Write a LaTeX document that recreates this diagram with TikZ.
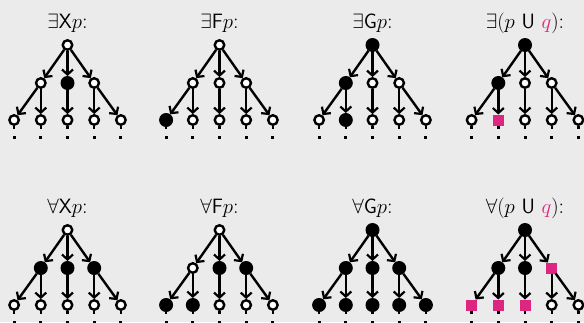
\documentclass[tikz,border=0pt]{standalone}
\usetikzlibrary{arrows.meta}
\definecolor{bg}{RGB}{235,235,235}
\definecolor{mag}{RGB}{221,38,127}
\tikzset{
 op/.style={circle,draw=black,fill=white,line width=2.4pt,minimum size=9.5pt,inner sep=0pt},
 fl/.style={circle,fill=black,minimum size=14pt,inner sep=0pt,outer sep=0pt},
 sq/.style={rectangle,fill=mag,minimum size=11pt,inner sep=0pt,outer sep=0pt},
 edge/.style={line width=2.4pt,-{Straight Barb[length=5pt,width=11pt,line width=2.2pt]}},
 stubline/.style={line width=2.4pt},
 dotmark/.style={rectangle,fill=black,minimum size=3pt,inner sep=0pt},
 lbl/.style={font=\fontsize{22}{26}\selectfont, anchor=base, inner sep=0pt}
}
\newcommand\ctltree[9]{%
 \node[#1] (\tp r) at (0,0) {};
 \node[#2] (\tp m1) at (-26.7,38) {};
 \node[#3] (\tp m2) at (0,38) {};
 \node[#4] (\tp m3) at (26.7,38) {};
 \node[#5] (\tp b1) at (-53.4,75) {};
 \node[#6] (\tp b2) at (-26.7,75) {};
 \node[#7] (\tp b3) at (0,75) {};
 \node[#8] (\tp b4) at (26.7,75) {};
 \node[#9] (\tp b5) at (53.4,75) {};
 \draw[edge] (\tp r) -- (\tp m1);
 \draw[edge] (\tp r) -- (\tp m2);
 \draw[edge] (\tp r) -- (\tp m3);
 \draw[edge] (\tp m1) -- (\tp b1);
 \draw[edge] (\tp m1) -- (\tp b2);
 \draw[edge] (\tp m2) -- (\tp b3);
 \draw[edge] (\tp m3) -- (\tp b4);
 \draw[edge] (\tp m3) -- (\tp b5);
 \foreach \k/\xx in {1/-53.4,2/-26.7,3/0,4/26.7,5/53.4} {
   \coordinate (\tp s\k) at (\xx,84);
   \node[dotmark] (\tp d\k) at (\xx,92.5) {};
   \draw[stubline] (\tp b\k.south) -- (\tp s\k);
 }
}
\begin{document}
\begin{tikzpicture}[x=1pt,y=-1pt]
\fill[bg] (0,0) rectangle (584,322);
\useasboundingbox (0,0) rectangle (584,322);
% top row
\begin{scope}[shift={(67.5,45)}]
 \def\tp{a}
 \node[lbl] (al) at (0,-17) {$\exists\mathsf{X}p$:};
 \ctltree{op}{op}{fl}{op}{op}{op}{op}{op}{op}
\end{scope}
\begin{scope}[shift={(219.5,45)}]
 \def\tp{b}
 \node[lbl] (bl) at (0,-17) {$\exists\mathsf{F}p$:};
 \ctltree{op}{op}{op}{op}{fl}{op}{op}{op}{op}
\end{scope}
\begin{scope}[shift={(372.5,45)}]
 \def\tp{c}
 \node[lbl] (cl) at (0,-17) {$\exists\mathsf{G}p$:};
 \ctltree{fl}{fl}{op}{op}{op}{fl}{op}{op}{op}
\end{scope}
\begin{scope}[shift={(525,45)}]
 \def\tp{d}
 \node[lbl] (dl) at (0,-17) {$\exists(p\ \mathsf{U}\ \textcolor{mag}{q})$:};
 \ctltree{fl}{fl}{op}{op}{op}{sq}{op}{op}{op}
\end{scope}
% bottom row
\begin{scope}[shift={(67.5,230)}]
 \def\tp{e}
 \node[lbl] (el) at (0,-17) {$\forall\mathsf{X}p$:};
 \ctltree{op}{fl}{fl}{fl}{op}{op}{op}{op}{op}
\end{scope}
\begin{scope}[shift={(219.5,230)}]
 \def\tp{f}
 \node[lbl] (fl) at (0,-17) {$\forall\mathsf{F}p$:};
 \ctltree{op}{op}{fl}{fl}{fl}{fl}{op}{op}{op}
\end{scope}
\begin{scope}[shift={(372.5,230)}]
 \def\tp{g}
 \node[lbl] (gl) at (0,-17) {$\forall\mathsf{G}p$:};
 \ctltree{fl}{fl}{fl}{fl}{fl}{fl}{fl}{fl}{fl}
\end{scope}
\begin{scope}[shift={(525,230)}]
 \def\tp{h}
 \node[lbl] (hl) at (0,-17) {$\forall(p\ \mathsf{U}\ \textcolor{mag}{q})$:};
 \ctltree{fl}{fl}{fl}{sq}{sq}{sq}{sq}{op}{op}
\end{scope}
\end{tikzpicture}
\end{document}
